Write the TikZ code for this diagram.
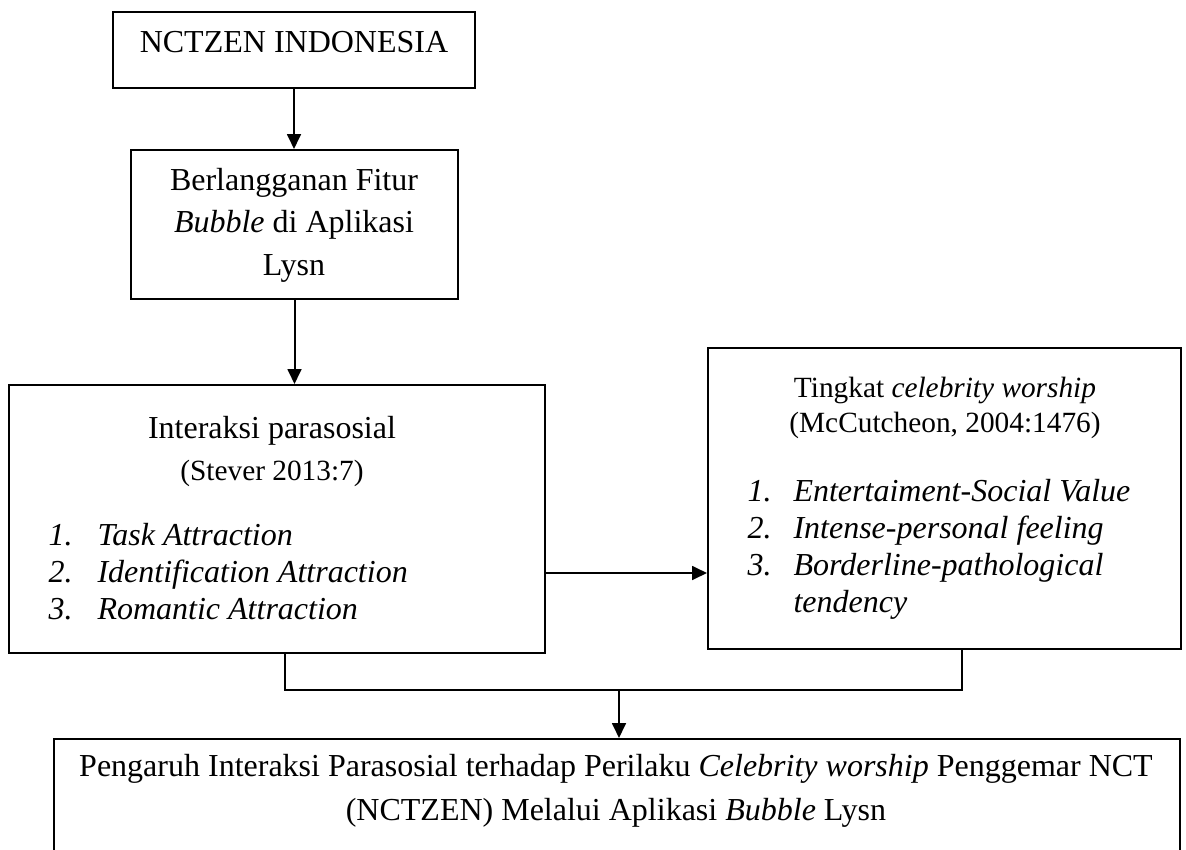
\documentclass[tikz,border=0pt]{standalone}
\usepackage{fontspec}
\setmainfont{Liberation Serif}
\usetikzlibrary{arrows.meta,fit}
\begin{document}
\begin{tikzpicture}[x=0.375pt,y=-0.375pt,
  box/.style={draw,line width=0.75pt,inner sep=0pt},
  txt/.style={anchor=base,inner sep=0pt,font=\fontsize{12}{14}\selectfont},
  small/.style={anchor=base,inner sep=0pt,font=\fontsize{11}{13}\selectfont},
  num/.style={anchor=base west,inner sep=0pt,font=\fontsize{12}{14}\selectfont\itshape},
  conn/.style={line width=0.75pt},
  arr/.style={conn,-{Triangle[length=5.6pt,width=5.2pt]}}]
\useasboundingbox (0,0) rectangle (1186,850);
\clip (0,0) rectangle (1186,850);
\fill[white] (0,0) rectangle (1186,850);

% boxes
\node[box,fit={(113,12) (475,88)}] (b1) {};
\node[box,fit={(131,150) (458,299)}] (b2) {};
\node[box,fit={(9,385) (545,653)}] (b3) {};
\node[box,fit={(708,348) (1181,649)}] (b4) {};
\node[box,fit={(54,739) (1180,900)}] (b5) {};

% box 1 text
\node[txt] (t1) at (294,52) {NCTZEN INDONESIA};

% box 2 text
\node[txt] (t2a) at (294,190) {Berlangganan Fitur};
\node[txt] (t2b) at (294,232) {\textit{Bubble} di Aplikasi};
\node[txt] (t2c) at (294,275) {Lysn};

% box 3 text
\node[txt] (t3a) at (272,438) {Interaksi parasosial};
\node[small] (t3b) at (272,480) {(Stever 2013:7)};
\node[num] (n31) at (48,545) {1.};
\node[num] (i31) at (97,545) {Task Attraction};
\node[num] (n32) at (48,582) {2.};
\node[num] (i32) at (97,582) {Identification Attraction};
\node[num] (n33) at (48,619) {3.};
\node[num] (i33) at (97,619) {Romantic Attraction};

% box 4 text
\node[small] (t4a) at (945,397) {Tingkat \textit{celebrity worship}};
\node[small] (t4b) at (945,432) {(McCutcheon, 2004:1476)};
\node[num] (n41) at (747,501) {1.};
\node[num] (i41) at (793,501) {Entertaiment-Social Value};
\node[num] (n42) at (747,538) {2.};
\node[num] (i42) at (793,538) {Intense-personal feeling};
\node[num] (n43) at (747,575) {3.};
\node[num] (i43) at (793,575) {Borderline-pathological};
\node[num] (i44) at (793,612) {tendency};

% box 5 text
\node[txt] (t5a) at (616,776) {Pengaruh Interaksi Parasosial terhadap Perilaku \textit{Celebrity worship} Penggemar NCT};
\node[txt] (t5b) at (616,820) {(NCTZEN) Melalui Aplikasi \textit{Bubble} Lysn};

% connectors
\draw[arr] (b1.south) -- (b1.south |- b2.north);
\draw[arr] (b2.south) -- (b2.south |- b3.north);
\coordinate (h) at (0,573);
\draw[arr] (b3.east |- h) -- (b4.west |- h);
\coordinate (jl) at (285,690);
\coordinate (jr) at (962,690);
\coordinate (jm) at (619,690);
\draw[conn] (b3.south -| jl) -- (jl) -- (jr) -- (b4.south -| jr);
\draw[arr] (jm) -- (b5.north -| jm);
\end{tikzpicture}
\end{document}
